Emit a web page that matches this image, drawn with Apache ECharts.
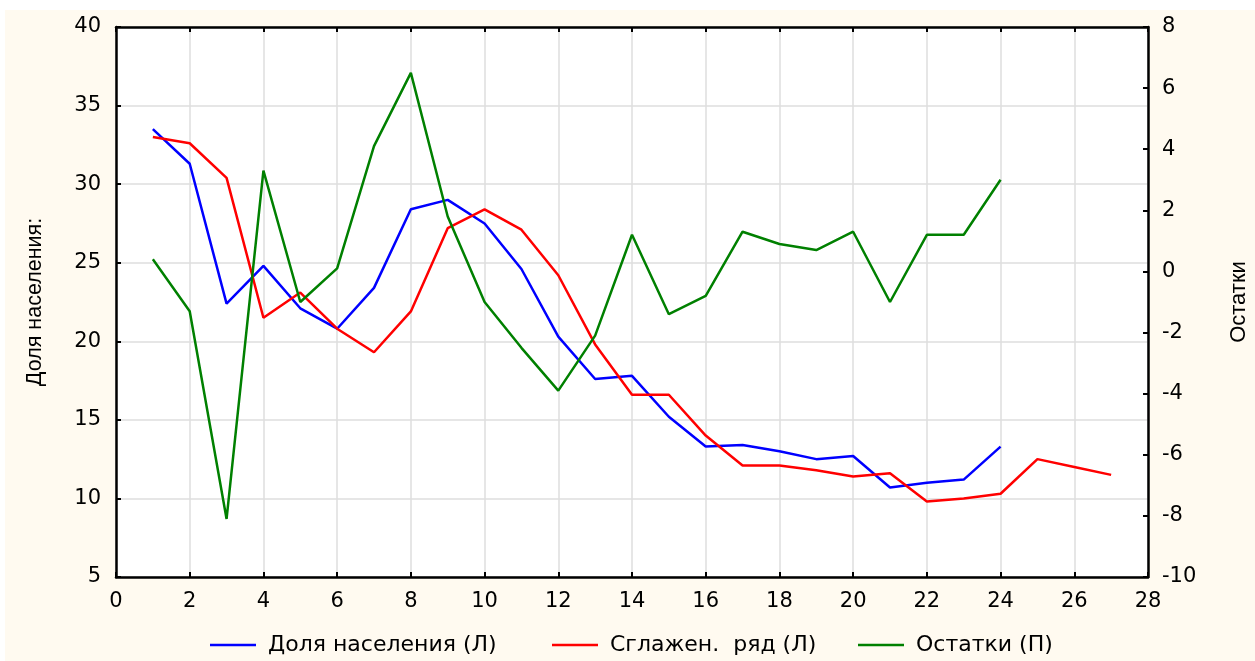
<!DOCTYPE html>
<html>
<head>
<meta charset="utf-8">
<script src="https://cdn.jsdelivr.net/npm/echarts@6/dist/echarts.min.js"></script>
<style>
html,body{margin:0;padding:0;background:#ffffff;}
#chart{width:1255px;height:661px;}
</style>
</head>
<body>
<div id="chart"></div>
<script>
// Data
const xPop = [1,2,3,4,5,6,7,8,9,10,11,12,13,14,15,16,17,18,19,20,21,22,23,24];
const popShare = [33.5,31.3,22.4,24.8,22.1,20.8,23.4,28.4,29.0,27.5,24.6,20.3,17.6,17.8,15.2,13.3,13.4,13.0,12.5,12.7,10.7,11.0,11.2,13.3];
const xSmooth = [1,2,3,4,5,6,7,8,9,10,11,12,13,14,15,16,17,18,19,20,21,22,23,24,25,26,27];
const smoothed = [33.0,32.6,30.4,21.5,23.1,20.8,19.3,21.9,27.2,28.4,27.1,24.2,19.8,16.6,16.6,14.0,12.1,12.1,11.8,11.4,11.6,9.8,10.0,10.3,12.5,12.0,11.5];
const xResid = [1,2,3,4,5,6,7,8,9,10,11,12,13,14,15,16,17,18,19,20,21,22,23,24];
const residuals = [0.4,-1.3,-8.1,3.3,-1.0,0.1,4.1,6.5,1.8,-1.0,-2.5,-3.9,-2.1,1.2,-1.4,-0.8,1.3,0.9,0.7,1.3,-1.0,1.2,1.2,3.0];
const seriesNames = ['Доля населения (Л)', 'Сглажен.  ряд (Л)', 'Остатки (П)'];
const seriesColors = ['#0000FF', '#FF0000', '#008000'];
const leftAxisName = 'Доля населения:';
const rightAxisName = 'Остатки';

const pairs = (xs, ys) => xs.map((x, i) => [x, ys[i]]);
const FONT = 'DejaVu Sans';
const NAMEFONT = 'Liberation Sans';
const legendLeft = [205, 547, 853];

const chart = echarts.init(document.getElementById('chart'));
const axisLine = {show: true, onZero: false, lineStyle: {color: '#000', width: 2.5}};
const tick = {show: true, inside: true, length: 5, lineStyle: {color: '#000', width: 2}};
chart.setOption({
  backgroundColor: '#ffffff',
  animation: false,
  graphic: [{
    type: 'rect', z: -10, silent: true,
    shape: {x: 5, y: 10, width: 1250, height: 651},
    style: {fill: '#FFFAF0'}
  }],
  grid: {left: 116, right: 107, top: 27, bottom: 84, outerBoundsMode: 'none', containLabel: false,
         show: true, backgroundColor: '#ffffff', borderWidth: 0},
  legend: seriesNames.map((n, i) => ({
    top: 629, left: legendLeft[i],
    itemWidth: 46, itemHeight: 2.5, icon: 'rect',
    textStyle: {fontFamily: FONT, fontSize: 22, color: '#000', padding: [0, 0, 0, 7]},
    data: [n]
  })),
  xAxis: [{
    type: 'value', min: 0, max: 28, interval: 2, position: 'bottom',
    axisLine: axisLine, axisTick: tick,
    axisLabel: {fontFamily: FONT, fontSize: 21, color: '#000', margin: 14},
    splitLine: {show: true, lineStyle: {color: '#dedede', width: 1.5}}
  }, {
    type: 'value', min: 0, max: 28, interval: 2, position: 'top',
    axisLine: axisLine, axisTick: tick, axisLabel: {show: false},
    splitLine: {show: false}
  }],
  yAxis: [{
    type: 'value', min: 5, max: 40, interval: 5, position: 'left',
    name: leftAxisName, nameLocation: 'middle', nameRotate: 90, nameGap: 70,
    nameTextStyle: {fontFamily: NAMEFONT, fontSize: 21.5, color: '#000'},
    axisLine: axisLine, axisTick: tick,
    axisLabel: {fontFamily: FONT, fontSize: 21, color: '#000', margin: 15},
    splitLine: {show: true, lineStyle: {color: '#dedede', width: 1.5}}
  }, {
    type: 'value', min: -10, max: 8, interval: 2, position: 'right',
    name: rightAxisName, nameLocation: 'middle', nameRotate: 90, nameGap: 80,
    nameTextStyle: {fontFamily: NAMEFONT, fontSize: 22, color: '#000'},
    axisLine: axisLine, axisTick: tick,
    axisLabel: {fontFamily: FONT, fontSize: 21, color: '#000', margin: 14},
    splitLine: {show: false}
  }],
  series: seriesNames.map((n, i) => ({
    name: n, type: 'line', xAxisIndex: 0, yAxisIndex: i === 2 ? 1 : 0,
    symbol: 'none',
    data: i === 0 ? pairs(xPop, popShare) : i === 1 ? pairs(xSmooth, smoothed) : pairs(xResid, residuals),
    lineStyle: {color: seriesColors[i], width: 2.5}, itemStyle: {color: seriesColors[i]}
  }))
});
</script>
</body>
</html>
